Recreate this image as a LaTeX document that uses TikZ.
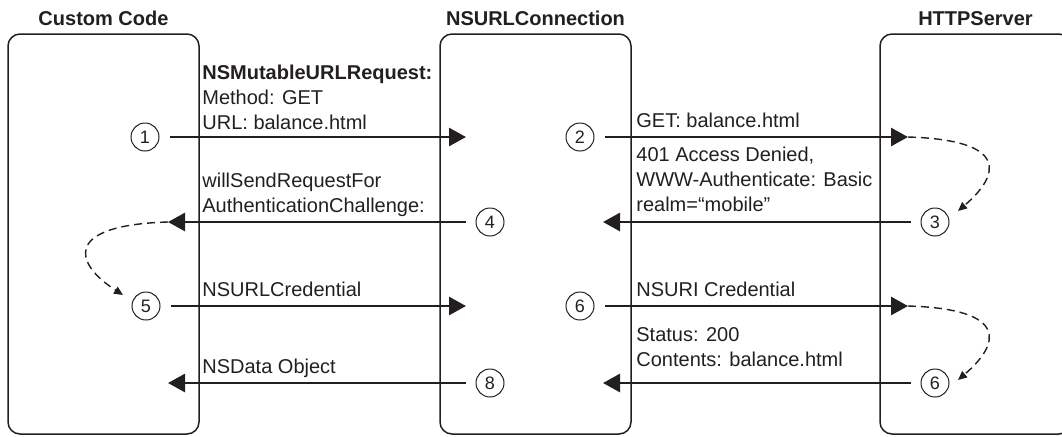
\documentclass[tikz,border=0pt]{standalone}
\usepackage{fontspec}
\setmainfont{Liberation Sans}
\usetikzlibrary{arrows.meta}

\definecolor{ink}{RGB}{35,31,32}

\begin{document}
\begin{tikzpicture}[x=0.5pt, y=-0.5pt, ink, text=ink,
    lane/.style={draw, line width=0.75pt, rounded corners=6pt, minimum width=95.5pt, minimum height=200pt, inner sep=0pt},
    title/.style={anchor=base, inner sep=0pt, font=\fontsize{10}{12}\selectfont\bfseries},
    num/.style={circle, draw, line width=0.5pt, minimum size=14pt, inner sep=0pt, font=\fontsize{9}{10}\selectfont},
    msg/.style={line width=1.4pt, -{Triangle[length=8.5pt, width=9pt]}, shorten <=5pt},
    loop/.style={line width=0.7pt, dash pattern=on 4pt off 2.5pt, -{Triangle[length=4.5pt, width=4pt]}},
    lbl/.style={anchor=base west, align=left, inner sep=0pt, font=\fontsize{10}{12.5}\selectfont}]
  \useasboundingbox (0,0) rectangle (1062,436);
  \clip (0,0) rectangle (1062,436);
  % Lanes and titles:
  \node[lane] (code) at (103.5,234) {};
  \node[lane] (conn) at (535.5,234) {};
  \node[lane] (server) at (975.5,234) {};
  \node[title] (codeT) at (103.5,25) {Custom Code};
  \node[title] (connT) at (535.5,25) {NSURLConnection};
  \node[title] (serverT) at (975.5,25) {HTTPServer};
  % Step numbers:
  \node[num] (n1) at (145,137) {1};
  \node[num] (n2) at (580,137) {2};
  \node[num] (n3) at (935,222) {3};
  \node[num] (n4) at (490,222) {4};
  \node[num] (n5) at (146,306) {5};
  \node[num] (n6) at (580,306) {6};
  \node[num] (n6b) at (935,383) {6};
  \node[num] (n8) at (490,383) {8};
  % Arrow ends:
  \coordinate (a1) at (466,137);
  \coordinate (a2) at (908,137);
  \coordinate (a3) at (603,222);
  \coordinate (a4) at (168,222);
  \coordinate (a5) at (466,306);
  \coordinate (a6) at (908,306);
  \coordinate (a6b) at (603,383);
  \coordinate (a8) at (168,383);
  \coordinate (b3) at (958,211);
  \coordinate (b5) at (123,295);
  \coordinate (b6b) at (958,380);
  % Messages:
  \draw[msg] (n1) -- (a1);
  \draw[msg] (n2) -- (a2);
  \draw[msg] (n3) -- (a3);
  \draw[msg] (n4) -- (a4);
  \draw[msg] (n5) -- (a5);
  \draw[msg] (n6) -- (a6);
  \draw[msg] (n6b) -- (a6b);
  \draw[msg] (n8) -- (a8);
  \draw[loop] (a2) .. controls (1010,140) and (1000,175) .. (b3);
  \draw[loop] (a6) .. controls (1010,309) and (1000,344) .. (b6b);
  \draw[loop] (a4) .. controls (65,225) and (72,262) .. (b5);
  % Labels (base = last line):
  \node[lbl] (req) at (202,129) {\textbf{NSMutableURLRequest:}\\Method: GET\\URL: balance.html};
  \node[lbl] (will) at (202,212) {willSendRequestFor\\AuthenticationChallenge:};
  \node[lbl] (cred) at (202,296) {NSURLCredential};
  \node[lbl] (data) at (202,373) {NSData Object};
  \node[lbl] (get) at (636,127) {GET: balance.html};
  \node[lbl] (deny) at (636,211) {401 Access Denied,\\WWW-Authenticate: Basic\\realm=“mobile”};
  \node[lbl] (credS) at (636,296) {NSURI Credential};
  \node[lbl] (ok) at (636,366) {Status: 200\\Contents: balance.html};
\end{tikzpicture}
\end{document}
